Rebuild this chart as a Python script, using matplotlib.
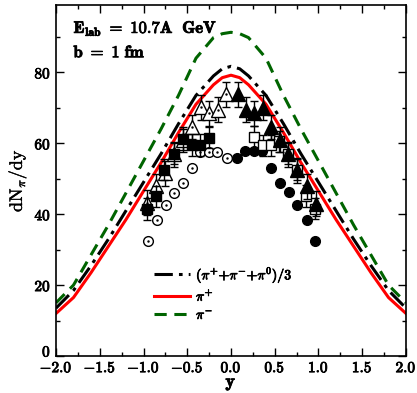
import numpy as np
import matplotlib.pyplot as plt
import matplotlib.patheffects as pe
import matplotlib.transforms as mtransforms
from matplotlib.ticker import MultipleLocator, FuncFormatter

plt.rcParams['mathtext.fontset'] = 'cm'

# model curves dN/dy vs rapidity
y_model = [-2.0, -1.8, -1.6, -1.4, -1.2, -1.0, -0.8, -0.6, -0.4, -0.2, -0.1, 0.0,
           0.1, 0.2, 0.4, 0.6, 0.8, 1.0, 1.2, 1.4, 1.6, 1.8, 2.0]
pi_avg = [13.5, 18.5, 25.5, 33.0, 41.0, 49.0, 57.0, 65.5, 73.5, 79.0, 81.0, 81.7,
          81.0, 79.0, 73.5, 65.5, 57.0, 49.0, 41.0, 33.0, 25.5, 18.5, 13.5]
pi_plus = [12.0, 16.5, 23.5, 31.0, 38.5, 46.5, 54.5, 63.0, 71.0, 76.5, 78.5, 79.2,
           78.5, 76.5, 71.0, 63.0, 54.5, 46.5, 38.5, 31.0, 23.5, 16.5, 12.0]
pi_minus = [15.0, 20.0, 28.5, 37.0, 46.0, 55.0, 64.0, 73.5, 84.0, 89.8, 90.9, 91.3,
            90.9, 89.8, 84.0, 73.5, 64.0, 55.0, 46.0, 37.0, 28.5, 20.0, 15.0]

# measured points (left side open, reflected side filled)
circ_open_y = [-0.944, -0.848, -0.745, -0.647, -0.551, -0.445, -0.354, -0.251, -0.156, -0.042]
circ_open_v = [32.4, 38.3, 42.6, 46.1, 48.7, 53.0, 57.4, 57.5, 57.5, 55.9]
circ_fill_y = [0.065, 0.16, 0.26, 0.36, 0.457, 0.56, 0.662, 0.76, 0.864, 0.962]
circ_fill_v = [55.9, 57.7, 57.7, 57.7, 52.9, 48.8, 46.2, 42.5, 38.3, 32.4]

sq_fill_y = [-0.955, -0.855, -0.76, -0.65, -0.545, -0.45, -0.354, -0.25]
sq_fill_v = [41.5, 45.0, 52.6, 57.1, 61.1, 59.5, 59.5, 61.6]
sq_open_y = [0.266, 0.362, 0.457, 0.551, 0.654, 0.757, 0.856, 0.959]
sq_open_v = [61.8, 59.4, 59.4, 60.6, 57.1, 52.6, 45.1, 41.6]
sq_err = 3.0

tri_open_y = [-0.96, -0.86, -0.75, -0.65, -0.55, -0.44, -0.34, -0.25, -0.15, -0.06]
tri_open_v = [43.2, 47.9, 51.5, 56.9, 61.0, 64.6, 70.2, 68.5, 69.5, 73.8]
tri_fill_y = [0.077, 0.168, 0.266, 0.362, 0.457, 0.56, 0.654, 0.76, 0.864, 0.967]
tri_fill_v = [73.8, 69.5, 68.5, 70.0, 64.6, 61.0, 56.9, 52.4, 47.9, 43.0]
tri_err = 3.5

bold = [pe.withStroke(linewidth=0.6, foreground='black')]

fig = plt.figure(figsize=(4.17, 3.93), dpi=100)
ax = fig.add_axes([0.1343, 0.0941, 0.8393, 0.8932])

ax.plot(y_model, pi_avg, color='black', lw=2.2, dashes=(6, 2, 1.2, 2),
        label=r'$\mathbf{(\pi^{+}{+}\pi^{-}{+}\pi^{0})/3}$', zorder=2)
ax.plot(y_model, pi_plus, color='red', lw=2.2, label=r'$\mathbf{\pi^{+}}$', zorder=2)
ax.plot(y_model, pi_minus, color='#006400', lw=2.2, dashes=(4, 2.5),
        label=r'$\mathbf{\pi^{-}}$', zorder=2)

ms = 7
ax.errorbar(tri_open_y, tri_open_v, yerr=tri_err, fmt='^', ms=9.5, mfc='white',
            mec='black', mew=1.0, ecolor='black', elinewidth=1.0, capsize=3, zorder=3)
ax.plot(tri_open_y, tri_open_v, '.', color='black', ms=1.5, zorder=3.1)
ax.errorbar(sq_fill_y, sq_fill_v, yerr=sq_err, fmt='s', ms=ms, mfc='black',
            mec='black', ecolor='black', elinewidth=1.0, capsize=3, zorder=4)
ax.errorbar(sq_open_y, sq_open_v, yerr=sq_err, fmt='s', ms=ms, mfc='white',
            mec='black', mew=1.0, ecolor='black', elinewidth=1.0, capsize=3, zorder=3)
ax.errorbar(tri_fill_y, tri_fill_v, yerr=tri_err, fmt='^', ms=9.5, mfc='black',
            mec='black', ecolor='black', elinewidth=1.0, capsize=3, zorder=4)
ax.plot(circ_open_y, circ_open_v, 'o', ms=ms, mfc='white', mec='black', mew=1.0, zorder=3)
ax.plot(circ_open_y, circ_open_v, '.', color='black', ms=1.5, zorder=3.1)
ax.plot(circ_fill_y, circ_fill_v, 'o', ms=ms, color='black', zorder=3)

ax.set_xlim(-2.0, 2.0)
ax.set_ylim(0, 99)
ax.xaxis.set_major_locator(MultipleLocator(0.5))
ax.xaxis.set_minor_locator(MultipleLocator(0.25))
ax.yaxis.set_major_locator(MultipleLocator(20))
ax.yaxis.set_minor_locator(MultipleLocator(10))
ax.tick_params(which='both', direction='in', top=True, right=True, width=1.0)
ax.tick_params(which='major', length=6, labelsize=11)
ax.tick_params(axis='x', which='major', pad=3)
ax.tick_params(which='minor', length=3)
ax.xaxis.set_major_formatter(FuncFormatter(lambda v, p: r'$\mathbf{%.1f}$' % v))
ax.yaxis.set_major_formatter(FuncFormatter(lambda v, p: r'$\mathbf{%d}$' % v))
fig.canvas.draw()
for lab in ax.get_xticklabels() + ax.get_yticklabels():
    lab.set_path_effects(bold)
# lift the zero label clear of the -2.0 label
lift = mtransforms.ScaledTranslation(0, 4 / 72, fig.dpi_scale_trans)
for tick in ax.yaxis.get_major_ticks():
    if abs(tick.get_loc()) < 1e-9:
        tick.label1.set_transform(tick.label1.get_transform() + lift)
for s in ax.spines.values():
    s.set_linewidth(1.2)

ax.set_xlabel(r'$\mathbf{y}$', fontsize=13, labelpad=-1, path_effects=bold)
ax.set_ylabel(r'$\mathrm{dN_{\pi}/dy}$', fontsize=13, labelpad=4,
              path_effects=[pe.withStroke(linewidth=0.3, foreground='black')])

ax.text(0.05, 0.935, r'$\mathbf{E_{lab}\ =\ 10.7A\ \ GeV}$', transform=ax.transAxes,
        fontsize=12, va='center', path_effects=bold)
ax.text(0.05, 0.865, r'$\mathbf{b\ =\ 1\ fm}$', transform=ax.transAxes,
        fontsize=12, va='center', path_effects=bold)

leg = ax.legend(loc='upper left', bbox_to_anchor=(0.265, 0.272), frameon=False,
                fontsize=10, handlelength=2.6, handletextpad=0.4, labelspacing=0.3,
                borderaxespad=0)
for t in leg.get_texts():
    t.set_path_effects(bold)

fig.savefig('out.png', dpi=100)
